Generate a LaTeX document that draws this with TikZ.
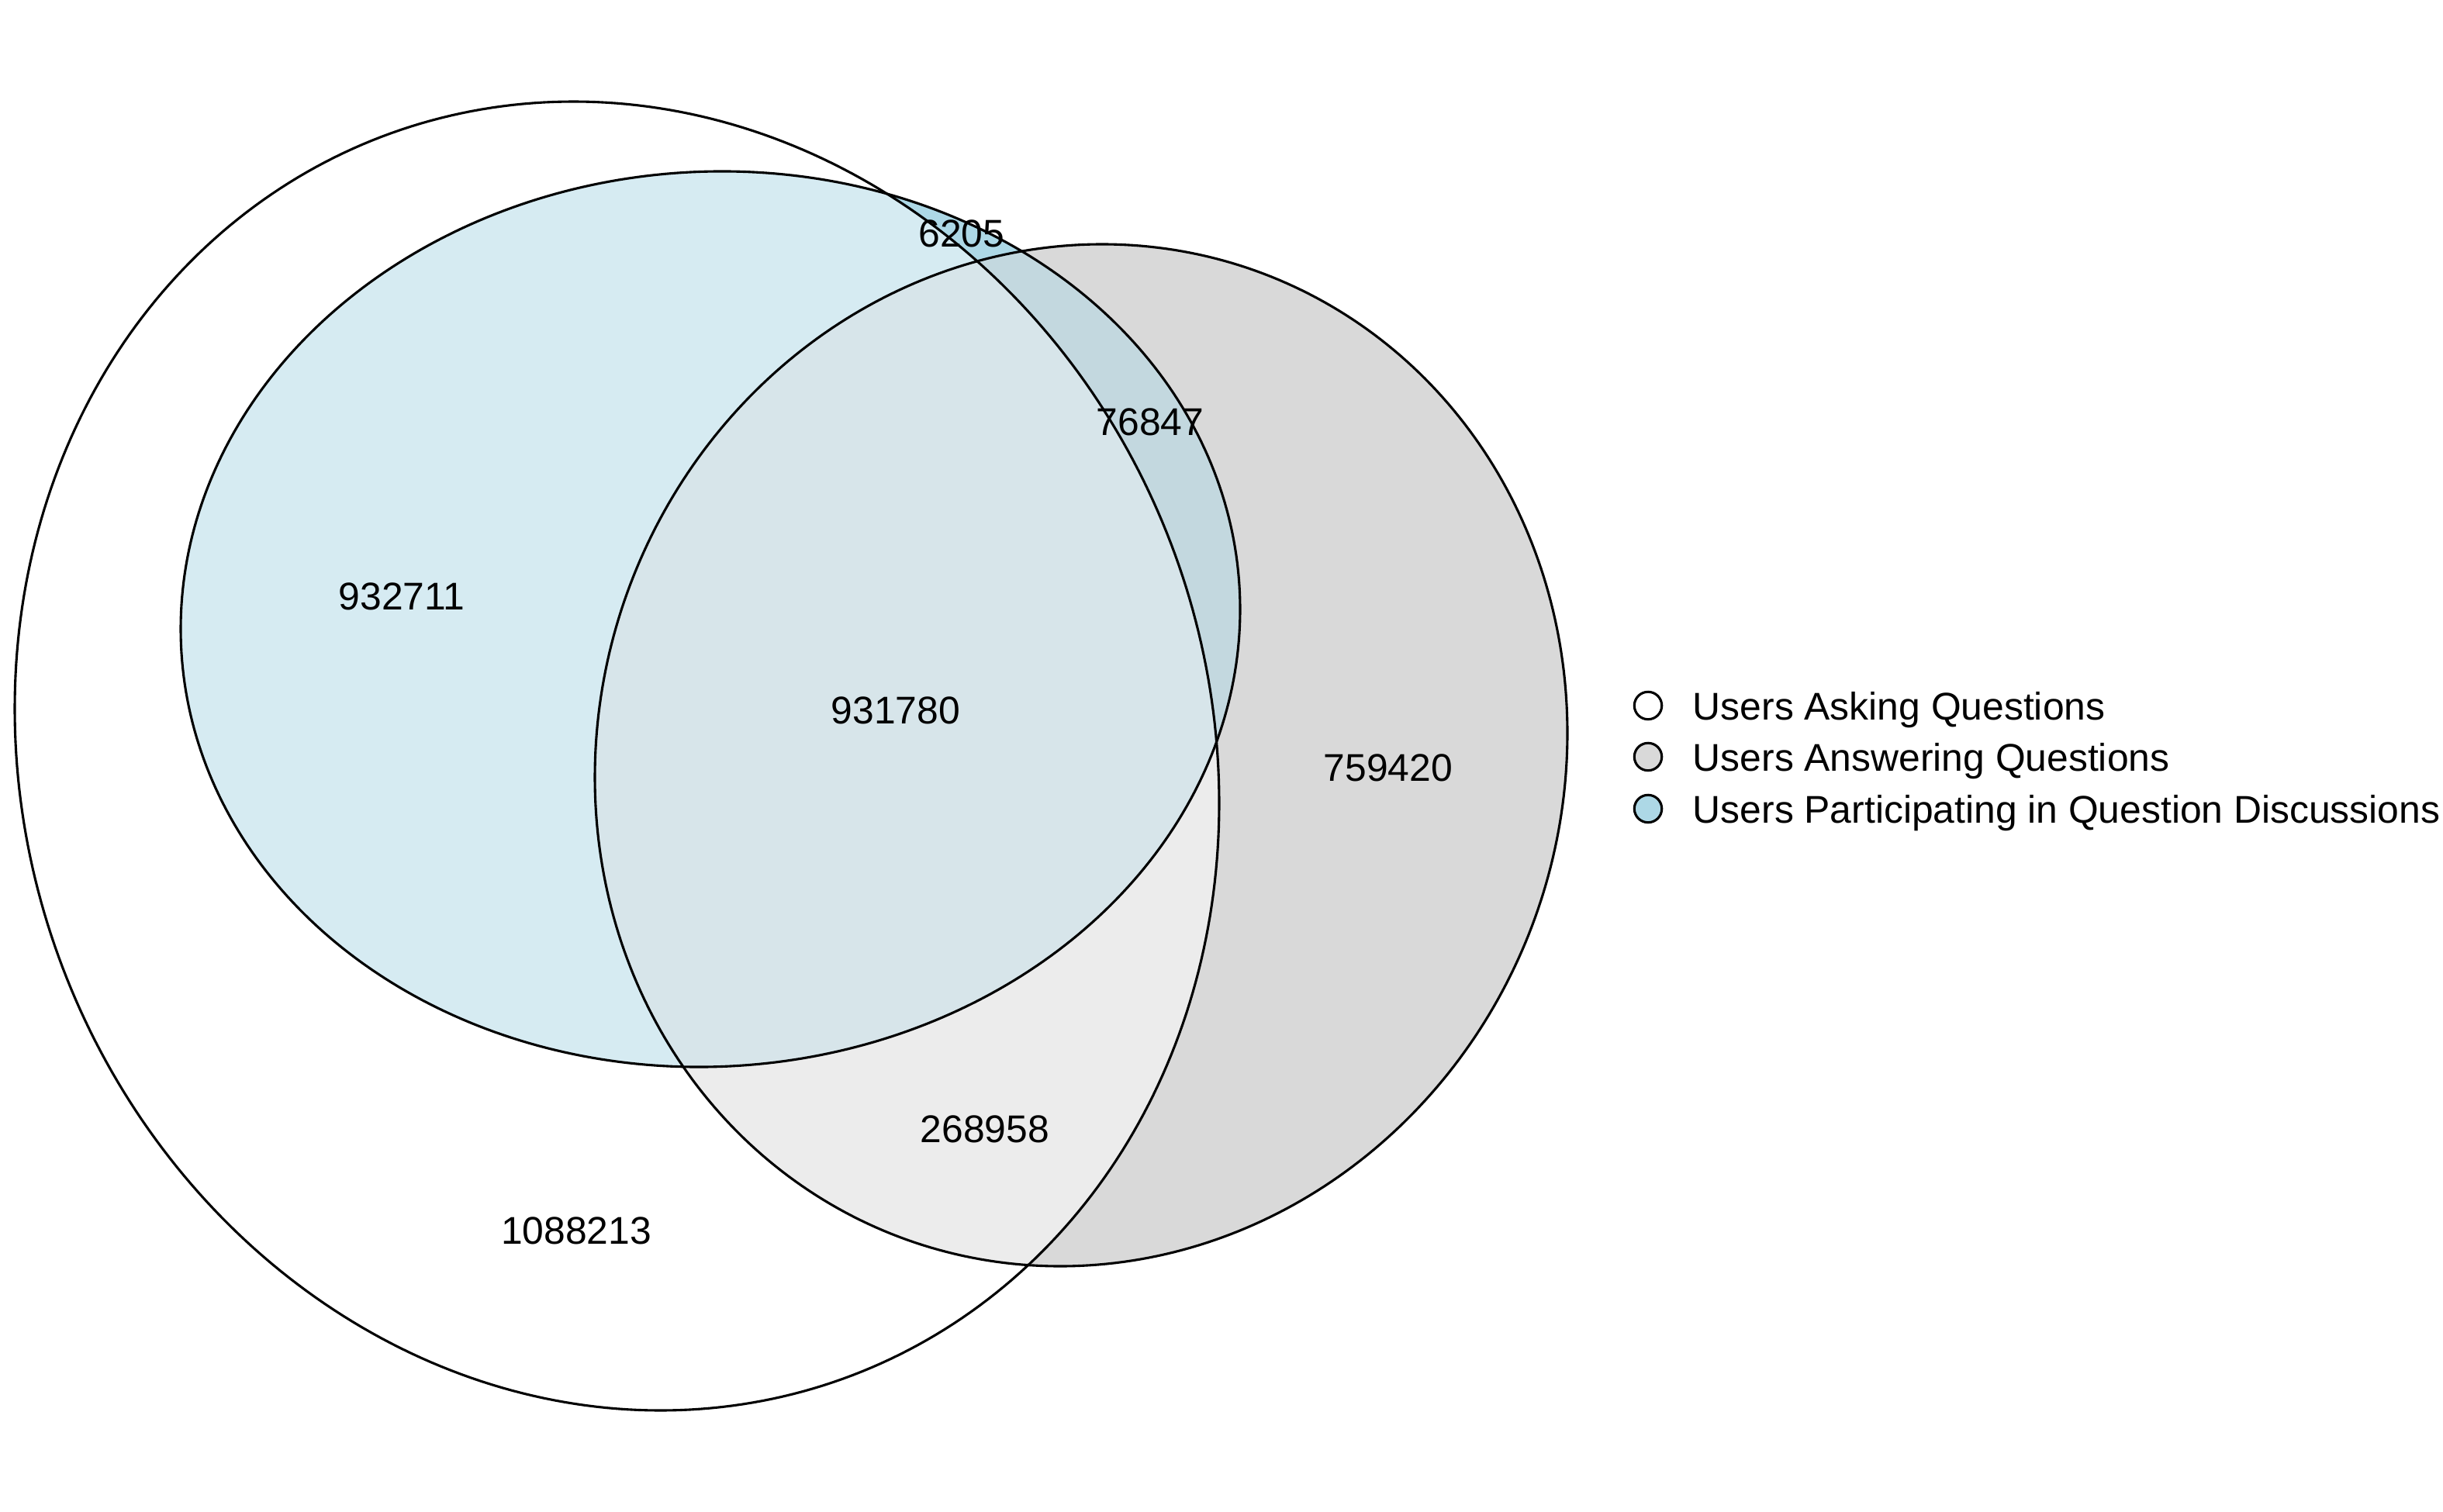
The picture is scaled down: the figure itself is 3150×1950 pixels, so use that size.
\documentclass[tikz,border=0pt]{standalone}
\usepackage{fontspec}
\setmainfont{Liberation Sans}
\definecolor{colB}{HTML}{D9D9D9}
\definecolor{colC}{HTML}{ADD8E6}
\definecolor{colAB}{HTML}{ECECEC}
\definecolor{colAC}{HTML}{D6EBF2}
\definecolor{colBC}{HTML}{C3D8DF}
\definecolor{colABC}{HTML}{D7E5EA}
\begin{document}
\begin{tikzpicture}[x=0.0846667mm, y=-0.0846667mm,
  outline/.style={draw=black, line width=0.75pt},
  lbl/.style={font=\fontsize{12}{14}\selectfont, inner sep=0pt},
  legtxt/.style={font=\fontsize{12}{14}\selectfont, inner sep=0pt, anchor=base west},
  legdot/.style={circle, draw=black, line width=0.75pt, minimum size=3.0mm, inner sep=0pt}]
\useasboundingbox (0,0) rectangle (3150,1950);
\fill[white] (0,0) rectangle (3150,1950);
\def\ellA{plot[domain=0:360, samples=361, variable=\t] ({795.5+776.5*cos(\t)}, {975+60.98*cos(\t)+841.8*sin(\t)}) -- cycle}
\def\ellB{plot[domain=0:360, samples=361, variable=\t] ({1394+627*cos(\t)}, {974-28.47*cos(\t)+658.4*sin(\t)}) -- cycle}
\def\ellC{plot[domain=0:360, samples=361, variable=\t] ({916+683*cos(\t)}, {798.5-12.59*cos(\t)+577.4*sin(\t)}) -- cycle}
% region fills
\fill[white] \ellA;
\fill[colB] \ellB;
\fill[colC] \ellC;
\begin{scope}\clip \ellA; \fill[colAB] \ellB; \end{scope}
\begin{scope}\clip \ellA; \fill[colAC] \ellC; \end{scope}
\begin{scope}\clip \ellB; \fill[colBC] \ellC; \end{scope}
\begin{scope}\clip \ellA; \clip \ellB; \fill[colABC] \ellC; \end{scope}
% outlines
\draw[outline] \ellA;
\draw[outline] \ellB;
\draw[outline] \ellC;
% labels
\node[lbl] (l1) at (1240,301) {6205};
\node[lbl] (l2) at (1483,544) {76847};
\node[lbl] (l3) at (518,769) {932711};
\node[lbl] (l4) at (1155,916) {931780};
\node[lbl] (l5) at (1790,990) {759420};
\node[lbl] (l6) at (1270,1456) {268958};
\node[lbl] (l7) at (743,1587) {1088213};
% legend
\node[legdot, fill=white] (d1) at (2125,910) {};
\node[legdot, fill=colB] (d2) at (2125,976) {};
\node[legdot, fill=colC] (d3) at (2125,1043) {};
\node[legtxt] (t1) at (2182,928) {Users Asking Questions};
\node[legtxt] (t2) at (2182,994) {Users Answering Questions};
\node[legtxt] (t3) at (2182,1061) {Users Participating in Question Discussions};
\end{tikzpicture}
\end{document}
